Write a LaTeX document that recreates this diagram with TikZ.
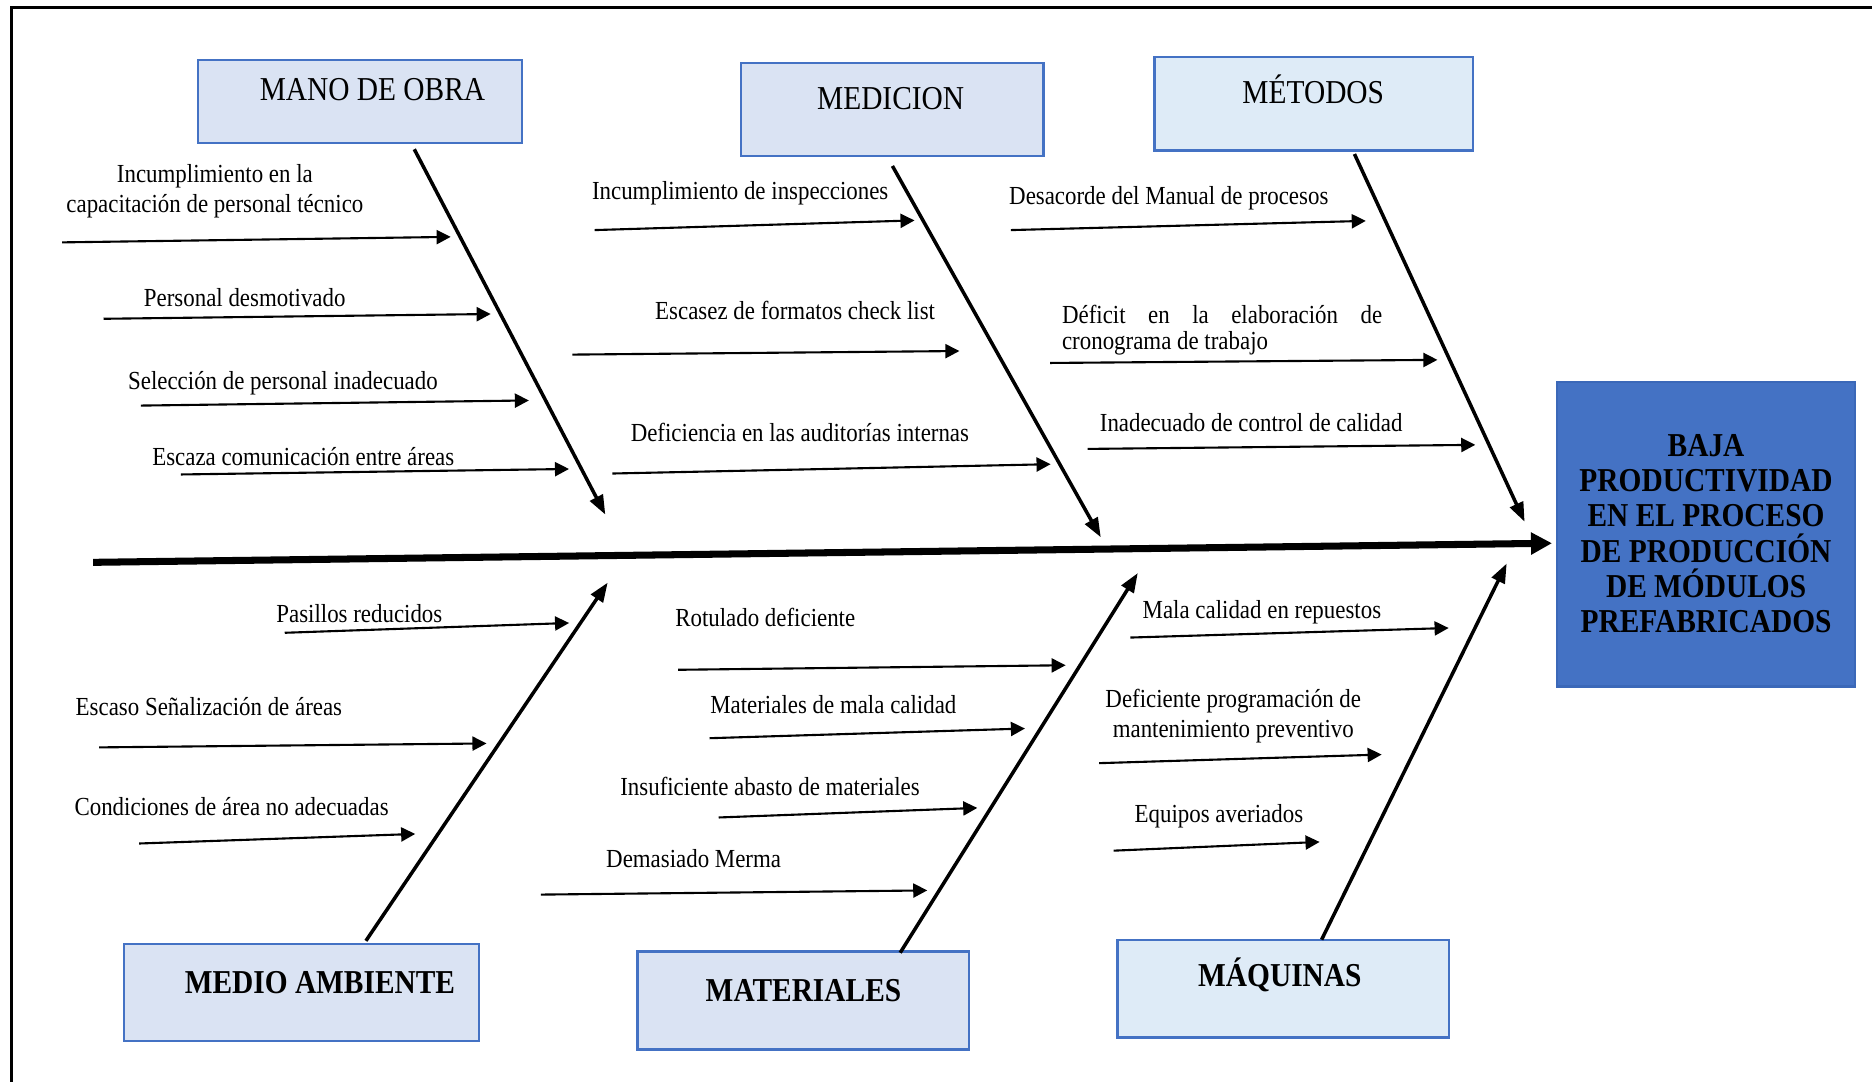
\documentclass[tikz,border=0pt]{standalone}
\usepackage{fontspec}
\setmainfont{Liberation Serif}[FakeStretch=0.88]
\usepackage{tikz}
\usetikzlibrary{arrows.meta,positioning,fit}

\definecolor{catfill}{HTML}{DAE3F3}
\definecolor{catfillb}{HTML}{DEEBF7}
\definecolor{catline}{HTML}{4472C4}
\definecolor{effblue}{HTML}{4472C4}
\definecolor{effline}{HTML}{3B68B8}

\tikzstyle{catbox}=[draw=catline,fill=catfill,line width=0.6pt,inner sep=0pt]
\tikzstyle{catboxb}=[catbox,fill=catfillb]
\tikzstyle{cattext}=[anchor=base,inner sep=0pt,font=\fontsize{9.5}{11}\selectfont]
\tikzstyle{cattextb}=[cattext,font=\fontsize{9.5}{11}\selectfont\bfseries]
\tikzstyle{effbox}=[draw=effline,fill=effblue,line width=0.6pt,inner sep=0pt]
\tikzstyle{efftext}=[inner sep=0pt,align=center,font=\fontsize{9.5}{10}\selectfont\bfseries]
\tikzstyle{cause}=[anchor=base,inner sep=0pt,font=\fontsize{7.4}{8.5}\selectfont]
\tikzstyle{causetwo}=[cause,anchor=center,align=center]
\tikzstyle{spine}=[line width=2pt,-{Triangle[length=6pt,width=6pt]}]
\tikzstyle{bone}=[line width=1pt,-{Triangle[length=5.5pt,width=4pt]}]
\tikzstyle{sub}=[line width=0.6pt,-{Triangle[length=4pt,width=4pt]}]

\begin{document}
\begin{tikzpicture}[x=0.0119388cm,y=-0.0119388cm]
  \useasboundingbox (0,0) rectangle (1568,906);
  % marco
  \coordinate (f1) at (9.5,906);
  \coordinate (f2) at (9.5,6.4);
  \coordinate (f3) at (1568,6.4);
  \draw[line width=0.7pt] (f1) -- (f2) -- (f3);

  % efecto
  \node [effbox, fit={(1304,320) (1554,575)}] (efecto) {};
  \node [efftext] (efectot) at (1429,447)
    {BAJA\\PRODUCTIVIDAD\\EN EL PROCESO\\DE PRODUCCIÓN\\DE MÓDULOS\\PREFABRICADOS};

  % espina central
  \coordinate (s0) at (78,471);
  \coordinate (s1) at (1300,455);
  \draw[spine] (s0) -- (s1);

  % categorias
  \node [catbox, fit={(166,50) (437,120)}] (mano) {};
  \node [cattext] (manot) at (312,84) {MANO DE OBRA};
  \node [catbox, fit={(621,53) (874,131)}] (medicion) {};
  \node [cattext] (mediciont) at (746,92) {MEDICION};
  \node [catboxb, fit={(967,48) (1234,126)}] (metodos) {};
  \node [cattext] (metodost) at (1100,86.5) {MÉTODOS};
  \node [catbox, fit={(104,791) (401,872)}] (medio) {};
  \node [cattextb] (mediot) at (268,832) {MEDIO AMBIENTE};
  \node [catbox, fit={(534,797) (812,879)}] (materiales) {};
  \node [cattextb] (materialest) at (673,839) {MATERIALES};
  \node [catboxb, fit={(936,787) (1214,869)}] (maquinas) {};
  \node [cattextb] (maquinast) at (1072,826) {MÁQUINAS};

  % espinas de categoria
  \coordinate (mano1) at (347,125);
  \coordinate (mano2) at (507,431);
  \draw[bone] (mano1) -- (mano2);
  \coordinate (medicion1) at (747.5,139);
  \coordinate (medicion2) at (922,450);
  \draw[bone] (medicion1) -- (medicion2);
  \coordinate (metodos1) at (1134.5,129);
  \coordinate (metodos2) at (1277,437);
  \draw[bone] (metodos1) -- (metodos2);
  \coordinate (medio1) at (306.5,788);
  \coordinate (medio2) at (509,488);
  \draw[bone] (medio1) -- (medio2);
  \coordinate (materiales1) at (754,798);
  \coordinate (materiales2) at (953,480);
  \draw[bone] (materiales1) -- (materiales2);
  \coordinate (maquinas1) at (1107,787);
  \coordinate (maquinas2) at (1262,472);
  \draw[bone] (maquinas1) -- (maquinas2);

  % mano de obra
  \node [causetwo] (mo1) at (180,160) {Incumplimiento en la\\capacitación de personal técnico};
  \coordinate (mo1a) at (52,203);
  \coordinate (mo1b) at (377.5,198.4);
  \draw[sub] (mo1a) -- (mo1b);
  \node [cause] (mo2) at (205,257) {Personal desmotivado};
  \coordinate (mo2a) at (86.7,267);
  \coordinate (mo2b) at (411,263);
  \draw[sub] (mo2a) -- (mo2b);
  \node [cause] (mo3) at (237,326) {Selección de personal inadecuado};
  \coordinate (mo3a) at (118,339.7);
  \coordinate (mo3b) at (443,335.4);
  \draw[sub] (mo3a) -- (mo3b);
  \node [cause] (mo4) at (254,390) {Escaza comunicación entre áreas};
  \coordinate (mo4a) at (151.5,397.4);
  \coordinate (mo4b) at (476.6,392.8);
  \draw[sub] (mo4a) -- (mo4b);

  % medicion
  \node [cause] (me1) at (620,167) {Incumplimiento de inspecciones};
  \coordinate (me1a) at (498,192.7);
  \coordinate (me1b) at (766,184.6);
  \draw[sub] (me1a) -- (me1b);
  \node [cause] (me2) at (666,268) {Escasez de formatos check list};
  \coordinate (me2a) at (479.5,297);
  \coordinate (me2b) at (803.6,294);
  \draw[sub] (me2a) -- (me2b);
  \node [cause] (me3) at (670,370) {Deficiencia en las auditorías internas};
  \coordinate (me3a) at (513,396.6);
  \coordinate (me3b) at (880,388.8);
  \draw[sub] (me3a) -- (me3b);

  % metodos
  \node [cause] (mt1) at (979,171) {Desacorde del Manual de procesos};
  \coordinate (mt1a) at (846.7,192.7);
  \coordinate (mt1b) at (1144,185);
  \draw[sub] (mt1a) -- (mt1b);
  \node [cause, anchor=north west, align=left] (mt2) at (889,255)
    {\makebox[3.2cm][s]{Déficit en la elaboración de}\\[-1pt]cronograma de trabajo};
  \coordinate (mt2a) at (879.5,304);
  \coordinate (mt2b) at (1204,301.4);
  \draw[sub] (mt2a) -- (mt2b);
  \node [cause] (mt3) at (1048,361) {Inadecuado de control de calidad};
  \coordinate (mt3a) at (911,376);
  \coordinate (mt3b) at (1235.7,372.6);
  \draw[sub] (mt3a) -- (mt3b);

  % medio ambiente
  \node [cause] (ma1) at (301,521) {Pasillos reducidos};
  \coordinate (ma1a) at (238.5,530);
  \coordinate (ma1b) at (476.7,521.8);
  \draw[sub] (ma1a) -- (ma1b);
  \node [cause] (ma2) at (175,599) {Escaso Señalización de áreas};
  \coordinate (ma2a) at (83,626);
  \coordinate (ma2b) at (407.5,622.7);
  \draw[sub] (ma2a) -- (ma2b);
  \node [cause] (ma3) at (194,683) {Condiciones de área no adecuadas};
  \coordinate (ma3a) at (116.6,706.5);
  \coordinate (ma3b) at (347.8,698.5);
  \draw[sub] (ma3a) -- (ma3b);

  % materiales
  \node [cause] (mat1) at (641,525) {Rotulado deficiente};
  \coordinate (mat1a) at (568,561);
  \coordinate (mat1b) at (892.6,557.2);
  \draw[sub] (mat1a) -- (mat1b);
  \node [cause] (mat2) at (698,598) {Materiales de mala calidad};
  \coordinate (mat2a) at (594.3,618.3);
  \coordinate (mat2b) at (858.5,610.2);
  \draw[sub] (mat2a) -- (mat2b);
  \node [cause] (mat3) at (645,666) {Insuficiente abasto de materiales};
  \coordinate (mat3a) at (602,684.7);
  \coordinate (mat3b) at (818.6,676.7);
  \draw[sub] (mat3a) -- (mat3b);
  \node [cause] (mat4) at (581,727) {Demasiado Merma};
  \coordinate (mat4a) at (453,749.3);
  \coordinate (mat4b) at (776.7,745.8);
  \draw[sub] (mat4a) -- (mat4b);

  % maquinas
  \node [cause] (mq1) at (1057,518) {Mala calidad en repuestos};
  \coordinate (mq1a) at (946.8,534);
  \coordinate (mq1b) at (1213.4,526);
  \draw[sub] (mq1a) -- (mq1b);
  \node [causetwo] (mq2) at (1033,599.5) {Deficiente programación de\\mantenimiento preventivo};
  \coordinate (mq2a) at (920.7,639.2);
  \coordinate (mq2b) at (1157.3,632);
  \draw[sub] (mq2a) -- (mq2b);
  \node [cause] (mq3) at (1021,688.5) {Equipos averiados};
  \coordinate (mq3a) at (932.8,712.5);
  \coordinate (mq3b) at (1105.3,705.2);
  \draw[sub] (mq3a) -- (mq3b);
\end{tikzpicture}
\end{document}
